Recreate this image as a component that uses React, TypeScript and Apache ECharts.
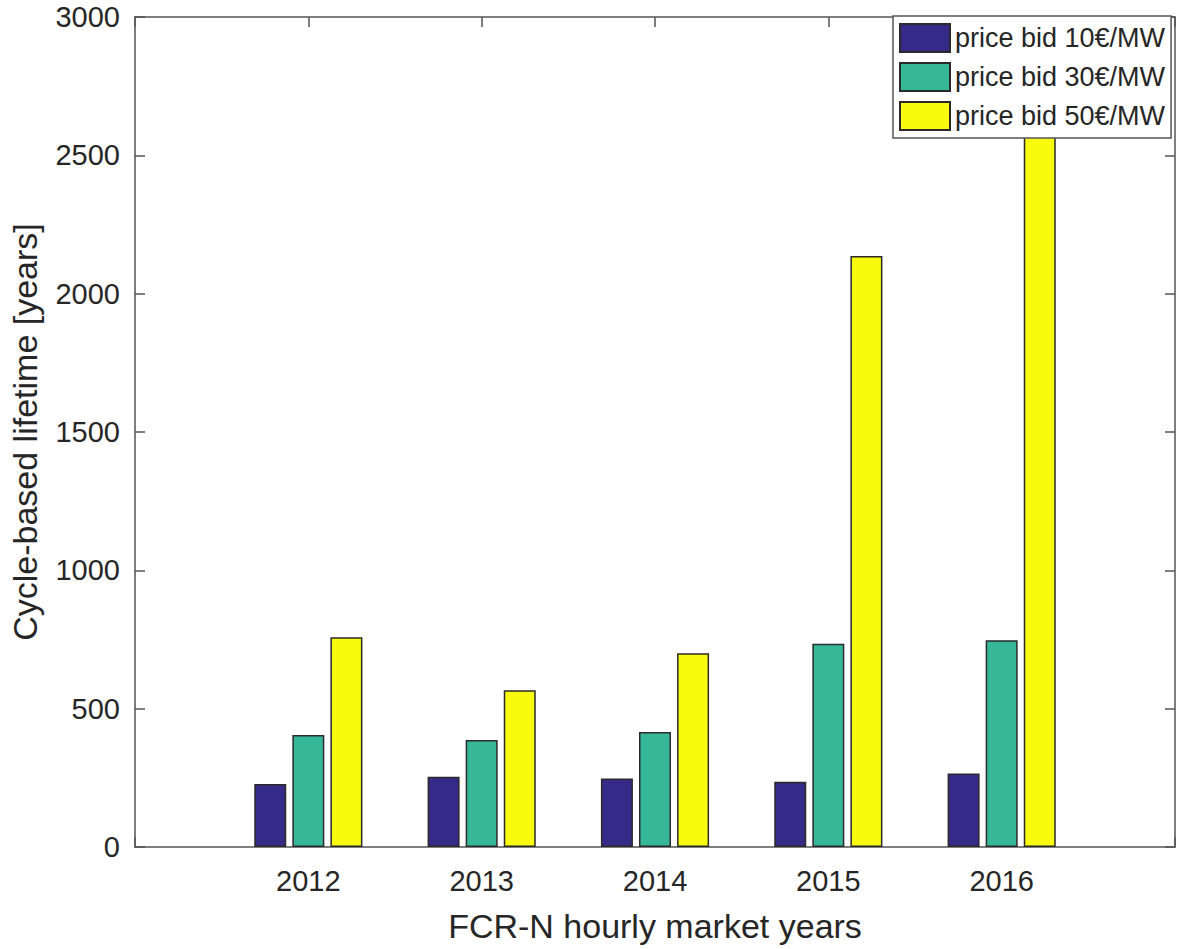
import React, { useEffect, useRef } from "react";
import * as echarts from "echarts";

const years = ["2012", "2013", "2014", "2015", "2016"];
const seriesNames = ["price bid 10€/MW", "price bid 30€/MW", "price bid 50€/MW"];
const bid10 = [228, 254, 248, 236, 266];
const bid30 = [405, 387, 416, 735, 747];
const bid50 = [758, 567, 700, 2136, 2800];
const colors = ["#352a87", "#36b898", "#f9fb0e"];
const xTitle = "FCR-N hourly market years";
const yTitle = "Cycle-based lifetime [years]";

const FONT = "Liberation Sans, Arial, Helvetica, sans-serif";
const TEXT = "#262626";
const AXIS = "#555555";

export default function App() {
  const ref = useRef<HTMLDivElement>(null);
  useEffect(() => {
    if (!ref.current) return;
    const chart = echarts.init(ref.current, undefined, { renderer: "svg" });
    const allSeries = [bid10, bid30, bid50];
    // padded categories so that the axis spans one empty year on each side
    const categories = ["", ...years, " "];
    const axisCommon = {
      axisLine: { show: true, onZero: false, lineStyle: { color: AXIS, width: 1.5 } },
      axisTick: { show: true, inside: true, length: 10, lineStyle: { color: AXIS, width: 1.5 } },
      splitLine: { show: false },
    };
    chart.setOption({
      animation: false,
      backgroundColor: "#ffffff",
      textStyle: { fontFamily: FONT },
      grid: { left: 133, top: 17, width: 1042, height: 830, containLabel: false },
      legend: {
        orient: "vertical",
        left: 893,
        top: 16,
        itemWidth: 50,
        itemHeight: 28,
        itemGap: 9,
        padding: [7, 6, 7, 6],
        backgroundColor: "#ffffff",
        borderColor: AXIS,
        borderWidth: 1.5,
        borderRadius: 0,
        icon: "rect",
        textStyle: { fontSize: 27, color: TEXT, fontFamily: FONT, width: 216 },
        data: seriesNames,
      },
      xAxis: [
        {
          type: "category",
          position: "bottom",
          data: categories,
          boundaryGap: false,
          ...axisCommon,
          axisLabel: {
            show: true,
            interval: 0,
            margin: 19,
            fontSize: 29,
            color: TEXT,
            fontFamily: FONT,
          },
          name: xTitle,
          nameLocation: "middle",
          nameGap: 62,
          nameTextStyle: { fontSize: 34, color: TEXT, fontFamily: FONT },
        },
        {
          type: "category",
          position: "top",
          data: categories,
          boundaryGap: false,
          ...axisCommon,
          axisTick: { ...axisCommon.axisTick, interval: 0 },
          axisLabel: { show: false },
        },
      ],
      yAxis: [
        {
          type: "value",
          position: "left",
          min: 0,
          max: 3000,
          interval: 500,
          ...axisCommon,
          axisLabel: {
            show: true,
            margin: 15,
            fontSize: 29,
            color: TEXT,
            fontFamily: FONT,
            formatter: (v: number) => String(v),
          },
          name: yTitle,
          nameLocation: "middle",
          nameGap: 93,
          nameTextStyle: { fontSize: 34, color: TEXT, fontFamily: FONT },
        },
        {
          type: "value",
          position: "right",
          min: 0,
          max: 3000,
          interval: 500,
          ...axisCommon,
          axisLabel: { show: false },
        },
      ],
      series: allSeries.map((vals, i) => ({
        name: seriesNames[i],
        type: "bar",
        xAxisIndex: 0,
        yAxisIndex: 0,
        barWidth: 32,
        barGap: "19%",
        itemStyle: { color: colors[i], borderColor: "#2a2a2a", borderWidth: 1.5 },
        data: [null, ...vals, null],
      })),
    });
    return () => chart.dispose();
  }, []);
  return (
    <div
      ref={ref}
      style={{ position: "absolute", left: 0, top: 0, width: 1184, height: 949 }}
    />
  );
}
